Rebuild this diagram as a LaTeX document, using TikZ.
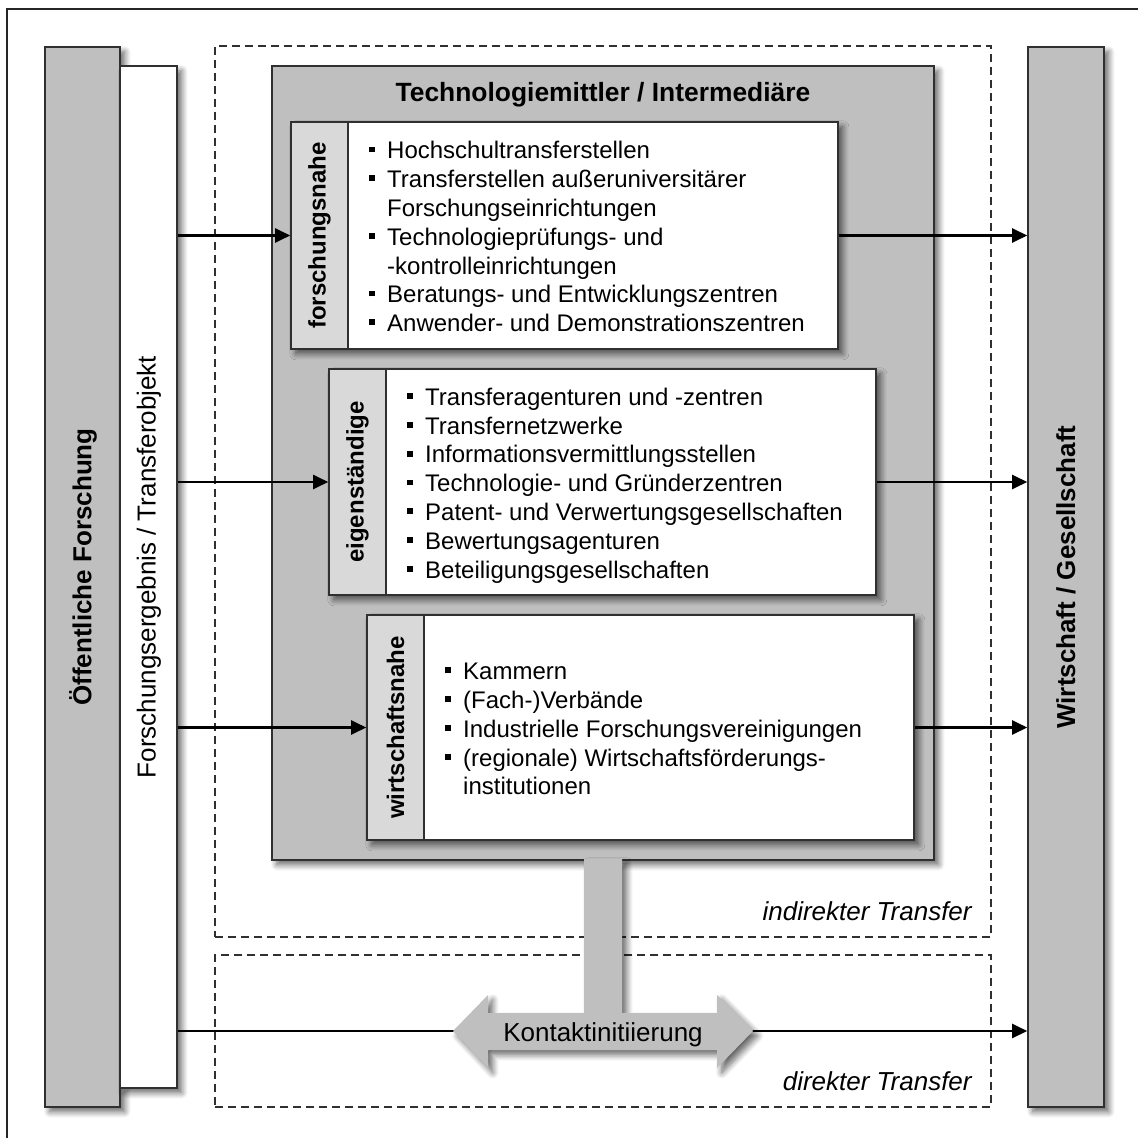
\documentclass[tikz,border=0pt]{standalone}
\usepackage{fontspec}
\setmainfont{Liberation Sans}
\usetikzlibrary{fit,arrows.meta,shadows.blur}

\definecolor{barfill}{HTML}{BFBFBF}
\definecolor{stripfill}{HTML}{D9D9D9}
\definecolor{edge}{HTML}{303030}

% small square bullet and the two text sizes
\newcommand{\sqb}{\rule[3.2pt]{2.9pt}{2.9pt}}
\newcommand{\normsize}{\fontsize{12}{14.4}\selectfont}
\newcommand{\bigsize}{\fontsize{13}{15.6}\selectfont}

\begin{document}
\begin{tikzpicture}[x=0.5pt,y=-0.5pt,
  soft/.style={blur shadow={shadow xshift=2.4pt,shadow yshift=-2.4pt,
      shadow blur radius=3pt,shadow blur steps=8,shadow opacity=60}},
  panel/.style={draw=edge,line width=0.8pt,inner sep=0pt,fill=barfill,soft},
  whitepanel/.style={draw=edge,line width=0.8pt,inner sep=0pt,fill=white,soft},
  strip/.style={draw=edge,line width=0.8pt,inner sep=0pt,fill=stripfill},
  zone/.style={draw=edge,line width=0.6pt,inner sep=0pt,dash pattern=on 4pt off 2.5pt},
  vlabel/.style={rotate=90,inner sep=0pt,font=\bigsize},
  slabel/.style={rotate=90,inner sep=0pt,font=\normsize\bfseries},
  itemlist/.style={anchor=west,inner sep=0pt,xshift=10pt,yshift=-2pt,font=\normsize},
  arr/.style={draw=black,line width=1.1pt,-{Triangle[length=7.5pt,width=7pt]}},
  zonelabel/.style={anchor=base east,inner sep=0pt,font=\bigsize\itshape}
]
\useasboundingbox (0,0) rectangle (1138,1138);

% page frame
\draw[line width=0.8pt,draw=black!85] (7,1140) -- (7,9) -- (1140,9);

% transfer zones
\node[zone,fit={(215,46) (991,937)}] (indirect) {};
\node[zone,fit={(215,955) (991,1107)}] (direct) {};
\node[zonelabel] (indlabel) at (972,920) {indirekter Transfer};
\node[zonelabel] (dirlabel) at (972,1090) {direkter Transfer};

% side columns
\node[panel,fit={(45,47) (120,1107)}] (pub) {};
\node[whitepanel,fit={(120,66) (177,1088)}] (res) {};
\node[panel,fit={(1028,47) (1104,1107)}] (wg) {};
\node[vlabel,font=\bigsize\bfseries] (publabel) at (83,567) {Öffentliche Forschung};
\node[vlabel] (reslabel) at (149,567) {Forschungsergebnis / Transferobjekt};
\node[vlabel,font=\bigsize\bfseries] (wglabel) at (1066,577) {Wirtschaft / Gesellschaft};

% intermediaries
\node[panel,fit={(272,66) (934,860)}] (tm) {};
\node[anchor=base,inner sep=0pt,font=\fontsize{13.2}{15.8}\selectfont\bfseries] (title) at (603,102)
  {Technologiemittler / Intermediäre};

% research-oriented
\node[whitepanel,fit={(291,122) (838,349)}] (fn) {};
\node[strip,fit={(291,122) (348,349)}] (fnstrip) {};
\node[slabel] at (fnstrip.center) {forschungsnahe};
\node[itemlist] (fnlist) at (fnstrip.east) {%
  \begin{tabular}{@{}l@{\hspace{6.1pt}}l@{}}
  \sqb & Hochschultransferstellen\\
  \sqb & Transferstellen außeruniversitärer\\
       & Forschungseinrichtungen\\
  \sqb & Technologieprüfungs- und\\
       & -kontrolleinrichtungen\\
  \sqb & Beratungs- und Entwicklungszentren\\
  \sqb & Anwender- und Demonstrationszentren
  \end{tabular}};

% independent
\node[whitepanel,fit={(329,369) (876,595)}] (ei) {};
\node[strip,fit={(329,369) (386,595)}] (eistrip) {};
\node[slabel] at (eistrip.center) {eigenständige};
\node[itemlist] (eilist) at (eistrip.east) {%
  \begin{tabular}{@{}l@{\hspace{6.1pt}}l@{}}
  \sqb & Transferagenturen und -zentren\\
  \sqb & Transfernetzwerke\\
  \sqb & Informationsvermittlungsstellen\\
  \sqb & Technologie- und Gründerzentren\\
  \sqb & Patent- und Verwertungsgesellschaften\\
  \sqb & Bewertungsagenturen\\
  \sqb & Beteiligungsgesellschaften
  \end{tabular}};

% industry-oriented
\node[whitepanel,fit={(367,615) (914,840)}] (wn) {};
\node[strip,fit={(367,615) (424,840)}] (wnstrip) {};
\node[slabel] at (wnstrip.center) {wirtschaftsnahe};
\node[itemlist] (wnlist) at (wnstrip.east) {%
  \begin{tabular}{@{}l@{\hspace{6.1pt}}l@{}}
  \sqb & Kammern\\
  \sqb & (Fach-)Verbände\\
  \sqb & Industrielle Forschungsvereinigungen\\
  \sqb & (regionale) Wirtschaftsförderungs-\\
       & institutionen
  \end{tabular}};

% flows through the intermediaries
\draw[arr] (res.east |- fn.west) -- (fn.west);
\draw[arr] (res.east |- ei.west) -- (ei.west);
\draw[arr] (res.east |- wn.west) -- (wn.west);
\draw[arr] (fn.east) -- (wg.west |- fn.east);
\draw[arr] (ei.east) -- (wg.west |- ei.east);
\draw[arr] (wn.east) -- (wg.west |- wn.east);

% direct flow
\coordinate (kc) at (603,1031);
\draw[arr] (res.east |- kc) -- (wg.west |- kc);

% contact initiation: stem from the intermediaries into a double arrow
\fill[barfill,soft] (584,859) -- (622,859) -- (622,1013) -- (717,1013) -- (717,995)
  -- (753,1031) -- (717,1068) -- (717,1050) -- (488,1050) -- (488,1068)
  -- (453,1031) -- (488,995) -- (488,1013) -- (584,1013) -- cycle;
\node[anchor=base,inner sep=0pt,font=\bigsize] (kontakt) at (603,1041) {Kontaktinitiierung};
\end{tikzpicture}
\end{document}
